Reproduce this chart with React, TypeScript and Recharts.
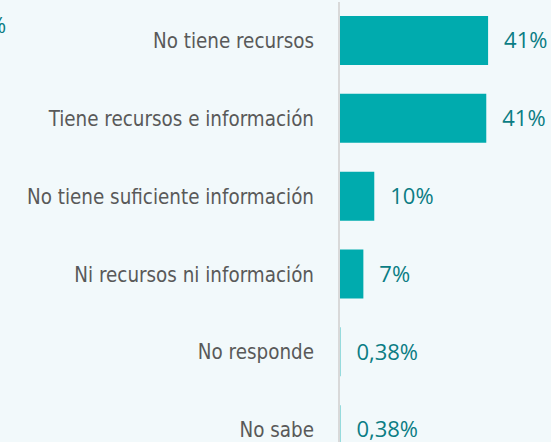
import { BarChart, Bar, XAxis, YAxis, LabelList } from 'recharts';

const categories = [
  'No tiene recursos',
  'Tiene recursos e información',
  'No tiene suficiente información',
  'Ni recursos ni información',
  'No responde',
  'No sabe'
];
const values = [41, 40.5, 9.7, 6.7, 0.38, 0.38];
const valueLabels = ['41%', '41%', '10%', '7%', '0,38%', '0,38%'];

const BG = '#f2f9fb';
const BAR = '#00abae';
const LABEL = '#0b7d84';

export default function App() {
  const data = categories.map((name, i) => ({
    name,
    value: values[i],
    label: valueLabels[i]
  }));

  return (
    <div
      style={{
        position: 'absolute',
        left: 0,
        top: 0,
        width: 551,
        height: 442,
        overflow: 'hidden',
        background: BG
      }}
    >
      {/* clipped fragment of a label at top-left */}
      <svg width={40} height={40} style={{ position: 'absolute', left: 0, top: 0 }}>
        <text x={-12} y={33} fill={LABEL} fontSize={22} fontFamily="'Open Sans', sans-serif">
          %
        </text>
      </svg>
      <BarChart
        width={551}
        height={470}
        data={data}
        layout="vertical"
        margin={{ top: 2, right: 12, bottom: 1, left: 0 }}
      >
        <XAxis type="number" domain={[0, 55]} hide />
        <YAxis
          type="category"
          dataKey="name"
          width={339}
          axisLine={{ stroke: '#d9d9d9', strokeWidth: 2 }}
          tickLine={false}
          tickMargin={19}
          tick={{
            fill: '#595959',
            fontSize: 20.4,
            fontFamily: "'Liberation Sans Narrow', 'DejaVu Sans Condensed', sans-serif"
          }}
        />
        <Bar dataKey="value" fill={BAR} barSize={49} isAnimationActive={false}>
          <LabelList
            dataKey="label"
            position="right"
            offset={16}
            fill={LABEL}
            fontSize={22}
            fontFamily="'Open Sans', sans-serif"
          />
        </Bar>
      </BarChart>
    </div>
  );
}
